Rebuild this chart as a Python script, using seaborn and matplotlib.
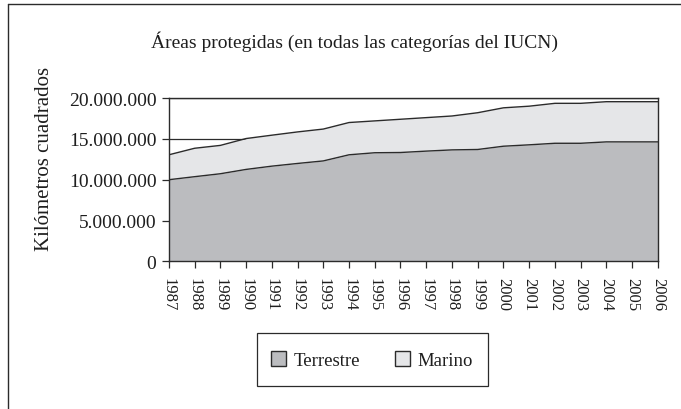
import matplotlib
matplotlib.use("Agg")
import matplotlib.pyplot as plt
from matplotlib.lines import Line2D
from matplotlib.patches import Patch, Rectangle
from matplotlib.ticker import FuncFormatter
import numpy as np
import pandas as pd
import seaborn as sns

years = list(range(1987, 2007))
terrestre = [10.00, 10.37, 10.73, 11.26, 11.66, 11.99, 12.30, 13.05, 13.30, 13.33,
             13.50, 13.65, 13.70, 14.10, 14.27, 14.46, 14.46, 14.63, 14.63, 14.63]
marino = [3.05, 3.48, 3.47, 3.78, 3.79, 3.86, 3.90, 3.95, 3.90, 4.07,
          4.10, 4.15, 4.50, 4.70, 4.73, 4.89, 4.89, 4.92, 4.92, 4.92]
yticks = [0, 5_000_000, 10_000_000, 15_000_000, 20_000_000]

title = "Áreas protegidas (en todas las categorías del IUCN)"
ylabel = "Kilómetros cuadrados"
series_names = ["Terrestre", "Marino"]

df = pd.DataFrame({
    "year": years,
    "Terrestre": np.array(terrestre) * 1e6,
    "Marino": np.array(marino) * 1e6,
})
df["Total"] = df["Terrestre"] + df["Marino"]

sns.set_style("ticks")
plt.rcParams["font.family"] = ["Liberation Serif", "DejaVu Serif"]

col_ter = "#bbbcbf"
col_mar = "#e5e6e8"
edge = "#2b2b2b"
txt = "#1e1e1e"
W, H = 681, 410

fig = plt.figure(figsize=(6.81, 4.10), dpi=100)
ax = fig.add_axes([0.248, 0.360, 0.718, 0.3985])

# horizontal gridlines sit behind the filled areas
for v in yticks:
    ax.axhline(v, color=edge, lw=0.9, zorder=0)

ax.fill_between(df["year"], 0, df["Terrestre"], color=col_ter, lw=0, zorder=1)
ax.fill_between(df["year"], df["Terrestre"], df["Total"], color=col_mar, lw=0, zorder=1)
sns.lineplot(data=df, x="year", y="Terrestre", ax=ax, color=edge, lw=1.0, zorder=2)
sns.lineplot(data=df, x="year", y="Total", ax=ax, color=edge, lw=1.0, zorder=2)

ax.set_xlim(years[0], years[-1])
ax.set_ylim(0, 20_000_000)
ax.set_xticks(years)
ax.set_xticklabels([str(y) for y in years], rotation=-90, fontsize=12, color=txt)
ax.set_yticks(yticks)
ax.yaxis.set_major_formatter(FuncFormatter(lambda v, p: f"{int(v):,}".replace(",", ".")))
ax.tick_params(axis="y", labelsize=14, labelcolor=txt, length=5, width=0.9, color=edge, pad=4)
ax.tick_params(axis="x", length=5, width=0.9, color=edge, pad=6)
ax.set_xlabel("")
ax.set_ylabel("")
for s in ax.spines.values():
    s.set_color(edge)
    s.set_linewidth(1.0)
    s.set_zorder(3)

fig.text(354 / W, 1 - 42 / H, title, ha="center", va="center", fontsize=14, color=txt)
fig.text(45 / W, 1 - 159 / H, ylabel, ha="center", va="center", rotation=90,
         fontsize=15, color=txt)

# legend box drawn separately so its padding can differ horizontally and vertically
fig.add_artist(Rectangle((257 / W, 1 - 387 / H), 231 / W, 53 / H, transform=fig.transFigure,
                         facecolor="white", edgecolor=edge, lw=0.9))
handles = [Patch(facecolor=col_ter, edgecolor=edge, lw=1.0),
           Patch(facecolor=col_mar, edgecolor=edge, lw=1.0)]
leg = fig.legend(handles, series_names, loc="center", ncol=2,
                 bbox_to_anchor=(372 / W, 1 - 361 / H),
                 fontsize=13.5, frameon=False,
                 handlelength=0.8, handleheight=0.8, handletextpad=0.4,
                 columnspacing=1.85, borderpad=0, borderaxespad=0)
for t in leg.get_texts():
    t.set_color(txt)

# outer frame around the chart
fig.add_artist(Line2D([7.5 / W, 7.5 / W], [0, 1 - 5 / H], transform=fig.transFigure,
                      color=edge, lw=1.0))
fig.add_artist(Line2D([7.5 / W, 1], [1 - 5 / H, 1 - 5 / H], transform=fig.transFigure,
                      color=edge, lw=1.0))

fig.savefig("out.png", dpi=100)
